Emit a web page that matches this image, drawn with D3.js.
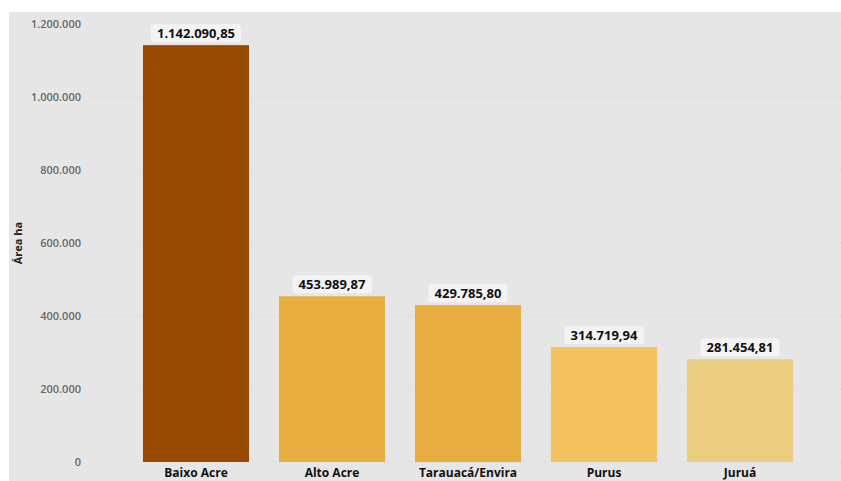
<!DOCTYPE html>
<html><head><meta charset="utf-8">
<script src="https://cdn.jsdelivr.net/npm/d3@7"></script>
<style>body{margin:0;background:#fff;} svg{display:block;}</style>
</head><body>
<svg id="c" width="841" height="481"></svg>
<script>
const categories = ["Baixo Acre", "Alto Acre", "Tarauacá/Envira", "Purus", "Juruá"];
const values = [1142090.85, 453989.87, 429785.80, 314719.94, 281454.81];
const colors = ["#994a00", "#e8ae40", "#e7ad41", "#f4c260", "#ebcd80"];
const yTicks = [0, 200000, 400000, 600000, 800000, 1000000, 1200000];
const yTitle = "Área ha";

const svg = d3.select("#c");
const font = "'Open Sans', 'Noto Sans', sans-serif";
svg.append("rect").attr("x", 9).attr("y", 12).attr("width", 832).attr("height", 469).attr("fill", "#e6e6e6");

const y = d3.scaleLinear().domain([0, 1200000]).range([462, 24]);
const x = d3.scaleBand().domain(categories).range([128, 808]).paddingInner(0.22).paddingOuter(0.11);

const fmtInt = v => d3.format(",.0f")(v).replace(/,/g, ".");
const fmtDec = v => {
  const s = d3.format(",.2f")(v);
  return s.replace(/,/g, "#").replace(".", ",").replace(/#/g, ".");
};

// gridlines
svg.append("g").selectAll("line").data(yTicks).join("line")
  .attr("x1", 88).attr("x2", 841)
  .attr("y1", d => y(d)).attr("y2", d => y(d))
  .attr("stroke", "#d2d2d2").attr("stroke-width", 1).attr("stroke-dasharray", "1,3");

// y axis
const yAxis = d3.axisLeft(y).tickValues(yTicks).tickFormat(fmtInt).tickSize(0).tickPadding(0);
const gy = svg.append("g").attr("transform", "translate(81,0)").call(yAxis);
gy.select(".domain").remove();
gy.selectAll("text").attr("fill", "#666").style("font-family", font).style("font-size", "11px").style("font-weight", "600");

svg.append("text").attr("transform", `translate(22,${y(600000)}) rotate(-90)`)
  .attr("text-anchor", "middle").style("font-family", font).style("font-size", "11px").style("font-weight", "700")
  .attr("fill", "#222").text(yTitle);

// bars
svg.append("g").selectAll("rect").data(categories).join("rect")
  .attr("x", d => x(d)).attr("width", x.bandwidth())
  .attr("y", (d, i) => y(values[i])).attr("height", (d, i) => y(0) - y(values[i]))
  .attr("fill", (d, i) => colors[i]);

// x axis
const xAxis = d3.axisBottom(x).tickSize(0).tickPadding(0);
const gx = svg.append("g").attr("transform", "translate(0,468)").call(xAxis);
gx.select(".domain").remove();
gx.selectAll("text").attr("fill", "#111").attr("dy", "0.71em").style("font-family", font).style("font-size", "12px").style("font-weight", "700");

// value labels
const lg = svg.append("g").selectAll("g").data(categories).join("g")
  .attr("transform", (d, i) => `translate(${x(d) + x.bandwidth() / 2},${y(values[i]) - 12})`);
lg.append("text").attr("text-anchor", "middle").attr("dy", "0.35em")
  .style("font-family", font).style("font-size", "13px").style("font-weight", "700").attr("fill", "#111")
  .text((d, i) => fmtDec(values[i]));
lg.each(function() {
  const g = d3.select(this);
  const bb = g.select("text").node().getBBox();
  g.insert("rect", "text").attr("x", bb.x - 6).attr("y", -9).attr("width", bb.width + 12).attr("height", 18)
    .attr("rx", 3).attr("fill", "#f3f3f3");
});
</script>
</body></html>
